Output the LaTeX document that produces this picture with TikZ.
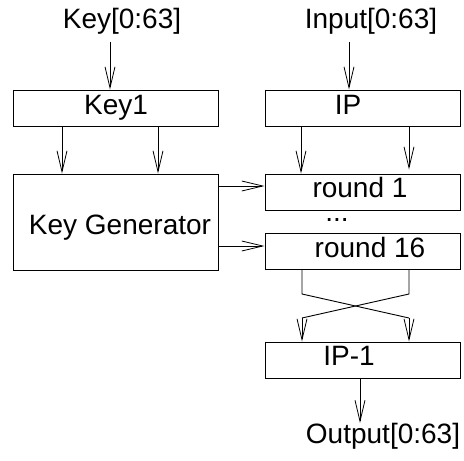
\documentclass[tikz,border=0pt]{standalone}
\usepackage{fontspec}
\setmainfont{Liberation Sans}
\usetikzlibrary{arrows.meta}
\begin{document}
\begin{tikzpicture}[x=1pt,y=-1pt,
  box/.style={draw,line width=1pt,rectangle,inner sep=0pt,minimum width=#1,minimum height=36pt},
  lbl/.style={inner sep=0pt,anchor=base,font=\fontsize{28}{33}\selectfont},
  wire/.style={line width=0.9pt},
  arr/.style={wire,-{Straight Barb[length=21pt,width=10pt,line width=0.8pt]}}]
\useasboundingbox (0,0) rectangle (464,461);
% boxes
\node[box=205pt] (key1) at (115.5,108) {};
\node[box=205pt,minimum height=96pt] (kgen) at (115.5,222) {};
\node[box=195pt] (ip) at (362.5,108) {};
\node[box=195pt] (r1) at (362.5,192) {};
\node[box=195pt] (r16) at (362.5,251) {};
\node[box=195pt] (ipinv) at (362.5,360) {};
% texts
\node[lbl] (tkey) at (122,28) {Key[0:63]};
\node[lbl] (tin) at (371,28) {Input[0:63]};
\node[lbl] (tkey1) at (116,114) {Key1};
\node[lbl] (tip) at (348,114) {IP};
\node[lbl] (tkgen) at (120,234) {Key Generator};
\node[lbl] (tr1) at (360,197) {round 1};
\node[lbl,text height=4pt] (tdots) at (337,221) {...};
\node[lbl] (tr16) at (370,257) {round 16};
\node[lbl] (tipinv) at (349,365) {IP-1};
\node[lbl] (tout) at (383,443) {Output[0:63]};
% helper points
\coordinate (kin) at (110,42);
\coordinate (iin) at (349,42);
\coordinate (a1) at (302,294);
\coordinate (a2) at (409,294);
\coordinate (b1) at (302,318);
\coordinate (b2) at (409,318);
\coordinate (oend) at (360,423);
% inputs
\draw[arr] (kin) -- (kin |- key1.north);
\draw[arr] (iin) -- (iin |- ip.north);
% key schedule
\draw[arr] (key1.south -| 62,0) -- (kgen.north -| 62,0);
\draw[arr] (key1.south -| 158,0) -- (kgen.north -| 158,0);
\draw[arr] (kgen.east |- 0,186) -- (r1.west |- 0,186);
\draw[arr] (kgen.east |- 0,246) -- (r16.west |- 0,246);
% data path
\draw[arr] (ip.south -| 301,0) -- (r1.north -| 301,0);
\draw[arr,shorten >=4pt] (ip.south -| 409,0) -- (r1.north -| 409,0);
% final swap
\draw[wire] (r16.south -| a1) -- (a1) -- (b2);
\draw[wire] (r16.south -| a2) -- (a2) -- (b1);
\draw[arr] (b1) -- (ipinv.north -| b1);
\draw[arr] (b2) -- (ipinv.north -| b2);
% output
\draw[arr] (ipinv.south -| oend) -- (oend);
\end{tikzpicture}
\end{document}
